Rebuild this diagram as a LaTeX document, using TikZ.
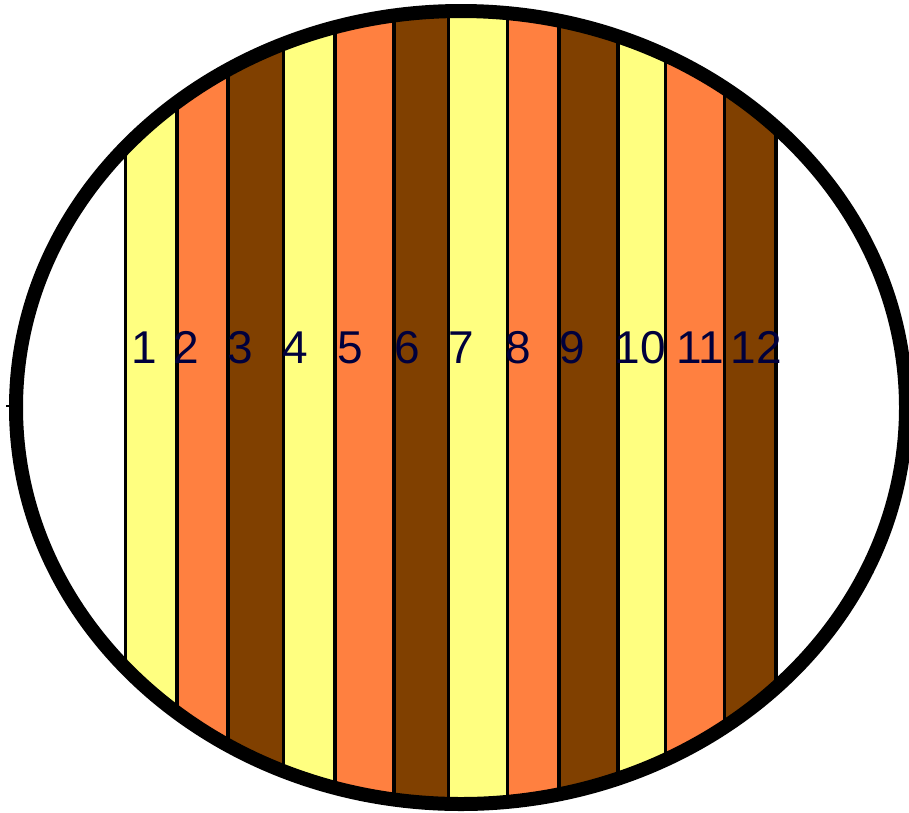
\documentclass[tikz,border=0pt]{standalone}
\usepackage{fontspec}
\setmainfont{Liberation Sans}
\definecolor{cy}{RGB}{255,255,128}
\definecolor{co}{RGB}{255,128,64}
\definecolor{cb}{RGB}{128,64,0}
\definecolor{num}{RGB}{0,0,60}
\begin{document}
\begin{tikzpicture}[x=1pt,y=-1pt,
  lbl/.style={anchor=base, text=num, font=\fontsize{46}{46}\selectfont, inner sep=0pt},
  sep/.style={draw=black, line width=3.5pt},
  rim/.style={draw=black, line width=14pt}]
\useasboundingbox (0,0) rectangle (909,812);
\begin{scope}
  \clip (461,407.5) ellipse [x radius=445, y radius=396.5];
  \foreach \a/\b/\c in {125.5/177/cy, 177/228/co, 228/283.5/cb,
                        283.5/335/cy, 335/394/co, 394/448.5/cb,
                        448.5/507.5/cy, 507.5/559/co, 559/618/cb,
                        618/665.5/cy, 665.5/724.5/co, 724.5/776/cb}
    \fill[\c] (\a,0) rectangle (\b,812);
  \foreach \a in {125.5,177,228,283.5,335,394,448.5,507.5,559,618,665.5,724.5,776}
    \draw[sep] (\a,0) -- (\a,812);
\end{scope}
\draw[rim] (461,407.5) ellipse [x radius=445, y radius=396.5];
\draw[line width=2pt] (6,406) -- (11,406);
\node[lbl] (n1) at (144,363) {1};
\node[lbl] (n2) at (186,363) {2};
\node[lbl] (n3) at (240,363) {3};
\node[lbl] (n4) at (295,363) {4};
\node[lbl] (n5) at (350,363) {5};
\node[lbl] (n6) at (407,363) {6};
\node[lbl] (n7) at (461,363) {7};
\node[lbl] (n8) at (518,363) {8};
\node[lbl] (n9) at (572,363) {9};
\node[lbl] (n10) at (640,363) {10};
\node[lbl] (n11) at (700,363) {11};
\node[lbl] (n12) at (756,363) {12};
\end{tikzpicture}
\end{document}
